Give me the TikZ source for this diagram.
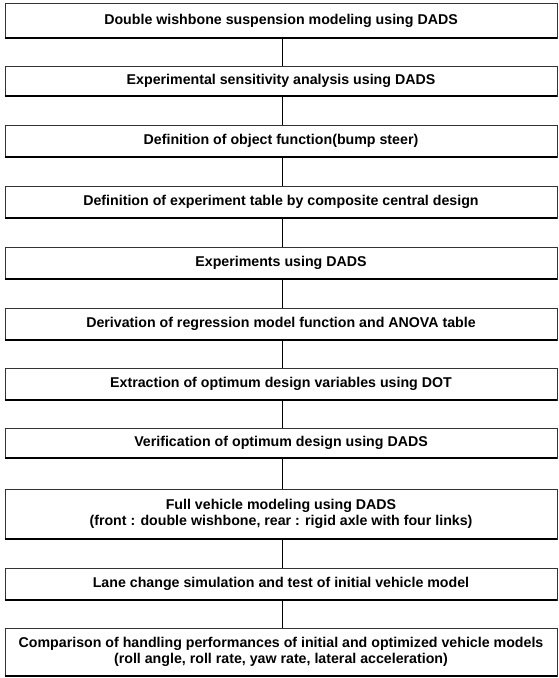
\documentclass[tikz,border=0pt]{standalone}
\usepackage{fontspec}
\setmainfont{Liberation Sans}
\begin{document}
\begin{tikzpicture}[x=1pt,y=-1pt,
  box/.style={draw=black!80, line width=0.5pt, minimum width=552pt, inner sep=0pt,
    align=center, font=\bfseries\fontsize{14.2}{15.5}\selectfont},
  shadow/.style={line width=1.8pt, black},
  link/.style={line width=1pt, black}]
\useasboundingbox (0,0) rectangle (559,678);
\node[box, minimum height=35pt] (b1) at (281,20.5) {Double wishbone suspension modeling using DADS};
\node[box, minimum height=30pt] (b2) at (281,81) {Experimental sensitivity analysis using DADS};
\node[box, minimum height=32pt] (b3) at (281,141) {Definition of object function(bump steer)};
\node[box, minimum height=32pt] (b4) at (281,202) {Definition of experiment table by composite central design};
\node[box, minimum height=32pt] (b5) at (281,263) {Experiments using DADS};
\node[box, minimum height=32pt] (b6) at (281,324) {Derivation of regression model function and ANOVA table};
\node[box, minimum height=32pt] (b7) at (281,384) {Extraction of optimum design variables using DOT};
\node[box, minimum height=30pt] (b8) at (281,443) {Verification of optimum design using DADS};
\node[box, minimum height=50pt] (b9) at (281,514) {Full vehicle modeling using DADS\\(front : double wishbone, rear : rigid axle with four links)};
\node[box, minimum height=32pt] (b10) at (281,584) {Lane change simulation and test of initial vehicle model};
\node[box, minimum height=48pt] (b11) at (281,652) {Comparison of handling performances of initial and optimized vehicle models\\(roll angle, roll rate, yaw rate, lateral acceleration)};
\foreach \n in {1,...,11} \draw[shadow] (b\n.south west) -- (b\n.south east);
\foreach \a/\b in {1/2,2/3,3/4,4/5,5/6,6/7,7/8,8/9,9/10,10/11}
  \draw[link] ([xshift=1.5pt]b\a.south) -- ([xshift=1.5pt]b\b.north);
\end{tikzpicture}
\end{document}
